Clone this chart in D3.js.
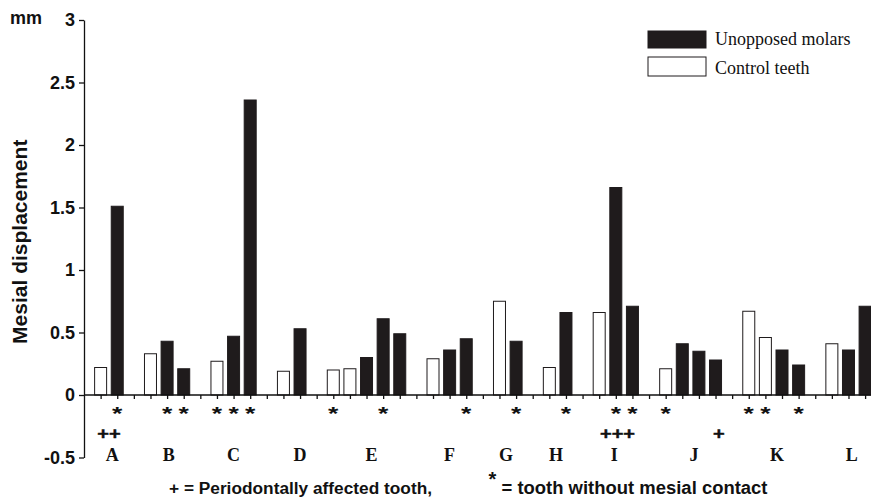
<!DOCTYPE html>
<html>
<head>
<meta charset="utf-8">
<script src="https://cdn.jsdelivr.net/npm/d3@7"></script>
<style>
  html, body { margin: 0; padding: 0; background: #fff; }
  svg { display: block; }
</style>
</head>
<body>
<svg id="chart" width="871" height="498"></svg>
<script>
// ---- data ----
// slot position of each bar along the x axis (one slot per tooth)
const barSlots  = [1, 2, 4, 5, 6, 8, 9, 10, 12, 13, 15, 16, 17, 18, 19, 21, 22, 23, 25, 26, 28, 29, 31, 32, 33, 35, 36, 37, 38, 40, 41, 42, 43, 45, 46, 47];
// series: "c" = control teeth, "u" = unopposed molars
const barSeries = ["c","u","c","u","u","c","u","u","c","u","c","c","u","u","u","c","u","u","c","u","c","u","c","u","u","c","u","u","u","c","c","u","u","c","u","u"];
const barValues = [0.22, 1.51, 0.33, 0.43, 0.21, 0.27, 0.47, 2.36, 0.19, 0.53, 0.20, 0.21, 0.30, 0.61, 0.49, 0.29, 0.36, 0.45, 0.75, 0.43, 0.22, 0.66, 0.66, 1.66, 0.71, 0.21, 0.41, 0.35, 0.28, 0.67, 0.46, 0.36, 0.24, 0.41, 0.36, 0.71];
// tooth without mesial contact (*)
const starSlots = [2, 5, 6, 8, 9, 10, 15, 18, 23, 26, 29, 32, 33, 35, 40, 41, 43];
// periodontally affected tooth (+)
const plusSlots = [1.5, 32.1, 38.2];
const plusTexts = ["++", "+++", "+"];
// patients
const groupLabels = ["A","B","C","D","E","F","G","H","I","J","K","L"];
const groupSlots  = [1.7, 5.1, 9.0, 13.0, 17.3, 22.0, 25.4, 28.4, 31.9, 36.7, 41.7, 46.2];
// y axis
const yTickValues = [-0.5, 0, 0.5, 1, 1.5, 2, 2.5, 3];
const yTickLabels = ["-0.5", "0", "0.5", "1", "1.5", "2", "2.5", "3"];
const legendLabels = ["Unopposed molars", "Control teeth"];

// ---- drawing ----
const svg = d3.select("#chart");
const sans = "'Liberation Sans', Arial, sans-serif";
const serif = "'Liberation Serif', 'Times New Roman', serif";
const black = "#1f1b1c";

const x = d3.scaleLinear().domain([0, 47]).range([84, 865.1]);
const y = d3.scaleLinear().domain([-0.5, 3]).range([457.5, 20]);
const barW = 12;

// bars
const bars = barSlots.map((s, i) => ({ slot: s, series: barSeries[i], value: barValues[i] }));
svg.append("g").selectAll("rect").data(bars).join("rect")
  .attr("x", d => x(d.slot) - barW / 2)
  .attr("y", d => y(Math.max(0, d.value)))
  .attr("width", barW)
  .attr("height", d => Math.abs(y(d.value) - y(0)))
  .attr("fill", d => d.series === "u" ? black : "#fff")
  .attr("stroke", black)
  .attr("stroke-width", 1);

// y axis
const yAxis = d3.axisLeft(y).tickValues(yTickValues)
  .tickFormat((d, i) => yTickLabels[i]).tickSize(5).tickSizeOuter(0).tickPadding(4);
const gy = svg.append("g").attr("transform", `translate(${x(0)},0)`).call(yAxis);
gy.selectAll("text").attr("font-family", sans).attr("font-weight", "bold")
  .attr("font-size", 18).attr("fill", "#111");
gy.selectAll("line, path").attr("stroke", "#111").attr("stroke-width", 1.3);

// x axis (zero line with small ticks)
const xAxis = d3.axisBottom(x).tickValues(d3.range(1, 48)).tickSize(4).tickSizeOuter(0).tickFormat("");
const gx = svg.append("g").attr("transform", `translate(0,${y(0)})`).call(xAxis);
gx.select(".domain").attr("d", `M${x(0)},0H871`);
gx.selectAll("line, path").attr("stroke", "#111").attr("stroke-width", 1.3);

// "mm" unit
svg.append("text").attr("x", 10).attr("y", 24).text("mm")
  .attr("font-family", sans).attr("font-weight", "bold").attr("font-size", 18).attr("fill", "#111");

// y title
svg.append("text")
  .attr("transform", `translate(27,${(y(3) + y(-0.5)) / 2 + 3}) rotate(-90)`)
  .attr("text-anchor", "middle")
  .attr("font-family", sans).attr("font-weight", "bold").attr("font-size", 21).attr("fill", "#111")
  .text("Mesial displacement");

// asterisks
svg.append("g").selectAll("text").data(starSlots).join("text")
  .attr("transform", d => `translate(${x(d)},420) scale(1.4,1)`)
  .attr("text-anchor", "middle")
  .attr("font-family", sans).attr("font-weight", "bold").attr("font-size", 19).attr("fill", "#111")
  .text("*");

// pluses
svg.append("g").selectAll("text").data(plusSlots).join("text")
  .attr("transform", d => `translate(${x(d)},439) scale(1.25,1)`)
  .attr("text-anchor", "middle")
  .attr("font-family", sans).attr("font-weight", "bold").attr("font-size", 16).attr("fill", "#111")
  .attr("stroke", "#111").attr("stroke-width", 0.4)
  .text((d, i) => plusTexts[i]);

// group letters
svg.append("g").selectAll("text").data(groupSlots).join("text")
  .attr("x", d => x(d)).attr("y", 461).attr("text-anchor", "middle")
  .attr("font-family", serif).attr("font-weight", "bold").attr("font-size", 18).attr("fill", "#111")
  .text((d, i) => groupLabels[i]);

// footer
svg.append("text").attr("x", 169).attr("y", 494)
  .attr("font-family", sans).attr("font-weight", "bold").attr("font-size", 17.4).attr("fill", "#111")
  .attr("textLength", 263).attr("lengthAdjust", "spacingAndGlyphs")
  .text("+ = Periodontally affected tooth,");
svg.append("text").attr("x", 492.5).attr("y", 485.5).attr("text-anchor", "middle")
  .attr("font-family", sans).attr("font-weight", "bold").attr("font-size", 20).attr("fill", "#111")
  .text("*");
svg.append("text").attr("x", 501.5).attr("y", 494)
  .attr("font-family", sans).attr("font-weight", "bold").attr("font-size", 18.3).attr("fill", "#111")
  .attr("textLength", 266).attr("lengthAdjust", "spacingAndGlyphs")
  .text("= tooth without mesial contact");

// legend
const legend = svg.append("g");
legendLabels.forEach((lab, i) => {
  const top = i === 0 ? 31 : 57;
  const h = i === 0 ? 17 : 19;
  legend.append("rect").attr("x", 648).attr("y", top).attr("width", 58).attr("height", h)
    .attr("fill", i === 0 ? black : "#fff").attr("stroke", black).attr("stroke-width", 1);
  legend.append("text").attr("x", 715).attr("y", i === 0 ? 45 : 74)
    .attr("font-family", serif).attr("font-size", 18).attr("fill", "#111").text(lab);
});
</script>
</body>
</html>
